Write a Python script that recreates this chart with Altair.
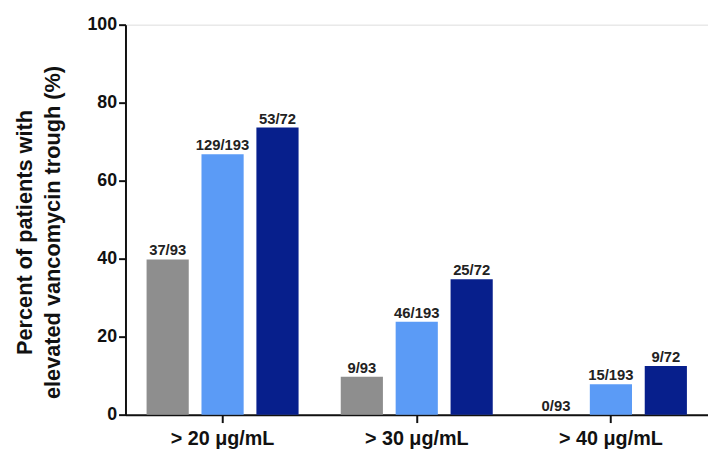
import altair as alt
import pandas as pd

categories = ["> 20 μg/mL", "> 30 μg/mL", "> 40 μg/mL"]
series = ["Group 1", "Group 2", "Group 3"]
colors = ["#8e8e8e", "#5b9bf6", "#071f8c"]

# percent values per category, per series
values_g1 = [39.8, 9.7, 0.0]
values_g2 = [66.8, 23.8, 7.8]
values_g3 = [73.6, 34.7, 12.5]
labels_g1 = ["37/93", "9/93", "0/93"]
labels_g2 = ["129/193", "46/193", "15/193"]
labels_g3 = ["53/72", "25/72", "9/72"]

rows = []
for s, vals, labs in zip(series, [values_g1, values_g2, values_g3], [labels_g1, labels_g2, labels_g3]):
    for c, v, l in zip(categories, vals, labs):
        rows.append({"cond": c, "series": s, "value": v, "label": l})
df = pd.DataFrame(rows)

FONT = "Liberation Sans"

x = alt.X("cond:N", sort=categories,
          scale=alt.Scale(paddingInner=0, paddingOuter=0),
          axis=alt.Axis(title=None, labelAngle=0, labelFontSize=20, labelFontWeight="bold",
                        labelColor="#111", labelFont=FONT, tickSize=8, tickWidth=2,
                        tickColor="#111", domainColor="#111", domainWidth=2, labelPadding=6))
xo = alt.XOffset("series:N", sort=series, scale=alt.Scale(paddingInner=0.232, paddingOuter=0.384))
y = alt.Y("value:Q", scale=alt.Scale(domain=[0, 100]),
          axis=alt.Axis(values=list(range(0, 101, 10)),
                        labelExpr="datum.value % 20 == 0 ? datum.label : ''",
                        title=["Percent of patients with", "elevated vancomycin trough (%)"],
                        titleFontSize=22, titleFontWeight="bold", titleFont=FONT, titleColor="#111",
                        titleLineHeight=28, titlePadding=23, titleY=210,
                        labelFontSize=18, labelFontWeight="bold", labelFont=FONT, labelColor="#111",
                        tickSize=7, tickWidth=2, tickColor="#111", domainColor="#111", domainWidth=2,
                        grid=False, labelPadding=2))

bars = alt.Chart(df).mark_bar().encode(
    x=x, xOffset=xo, y=y,
    color=alt.Color("series:N", sort=series, scale=alt.Scale(domain=series, range=colors), legend=None),
)
text = alt.Chart(df).mark_text(baseline="bottom", dy=-1, fontSize=15, fontWeight="bold",
                               font=FONT, color="#222").encode(
    x=x, xOffset=xo, y="value:Q", text="label:N"
)

chart = (bars + text).properties(width=590, height=395).configure_view(stroke=None).configure(
    padding={"left": 5, "top": 5, "right": 0, "bottom": 5})

chart.save("out.html", embed_options={"renderer": "svg", "actions": False})
